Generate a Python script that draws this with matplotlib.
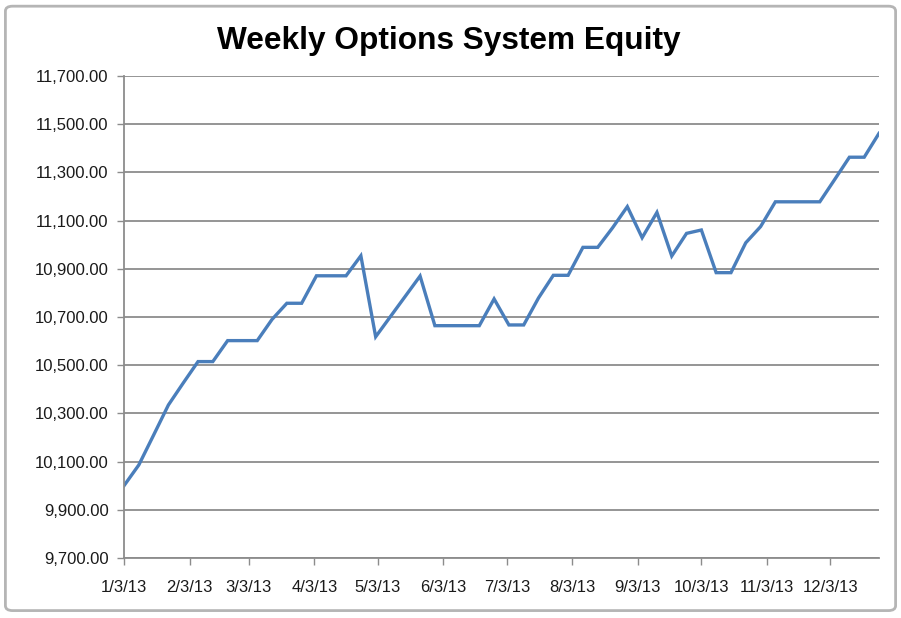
import matplotlib.pyplot as plt
import matplotlib.patches as mpatches
import numpy as np
import pandas as pd

# weekly equity values (Thursdays from 1/3/13)
week_start = '2013-01-03'
equity = [10000, 10086, 10210, 10335, 10426, 10515, 10515, 10602, 10602, 10602,
          10690, 10757, 10757, 10871, 10871, 10871, 10954, 10618, 10702, 10786,
          10870, 10664, 10664, 10664, 10664, 10775, 10667, 10667, 10779, 10873,
          10873, 10989, 10989, 11070, 11158, 11029, 11134, 10953, 11047, 11061,
          10884, 10884, 11008, 11075, 11178, 11178, 11178, 11178, 11270, 11363,
          11363, 11462]
dates = pd.date_range(week_start, periods=len(equity), freq='7D')

tick_dates = pd.to_datetime([f'2013-{m:02d}-03' for m in range(1, 13)])
tick_labels = ['1/3/13', '2/3/13', '3/3/13', '4/3/13', '5/3/13', '6/3/13',
               '7/3/13', '8/3/13', '9/3/13', '10/3/13', '11/3/13', '12/3/13']
y_ticks = np.arange(9700, 11701, 200)

plt.rcParams['font.family'] = ['Liberation Sans', 'DejaVu Sans']

fig = plt.figure(figsize=(9.01, 6.18), dpi=100)
ax = fig.add_axes([124 / 901, 1 - 558 / 618, (879 - 124) / 901, (558 - 76) / 618])

# outer chart border
border = mpatches.FancyBboxPatch((0.006, 0.012), 0.988, 0.978,
                                 boxstyle='round,pad=0,rounding_size=0.008',
                                 transform=fig.transFigure, facecolor='none',
                                 edgecolor='#b5b5b5', linewidth=2.0)
fig.patches.append(border)

ax.plot(dates, equity, color='#4a7ebb', linewidth=2.4, solid_joinstyle='miter')

ax.set_xlim(dates[0], dates[-1])
ax.set_ylim(9700, 11700)
ax.set_yticks(y_ticks, [f'{v:,.2f}' for v in y_ticks])
ax.set_xticks(tick_dates, tick_labels)

ax.grid(axis='y', color='#8c8c8c', linewidth=1.3)
ax.set_axisbelow(True)
for side in ['top', 'right']:
    ax.spines[side].set_visible(False)
for side in ['left', 'bottom']:
    ax.spines[side].set_color('#8c8c8c')
    ax.spines[side].set_linewidth(1.3)

ax.tick_params(axis='both', colors='#8c8c8c', labelcolor='#1a1a1a',
               labelsize=12, length=5, width=1.0)
ax.tick_params(axis='x', pad=11)
ax.tick_params(axis='y', pad=6)

fig.text(0.498, 0.934, 'Weekly Options System Equity', ha='center', va='center',
         fontsize=22.8, fontweight='bold')

fig.savefig('out.png', dpi=100)
plt.close()
